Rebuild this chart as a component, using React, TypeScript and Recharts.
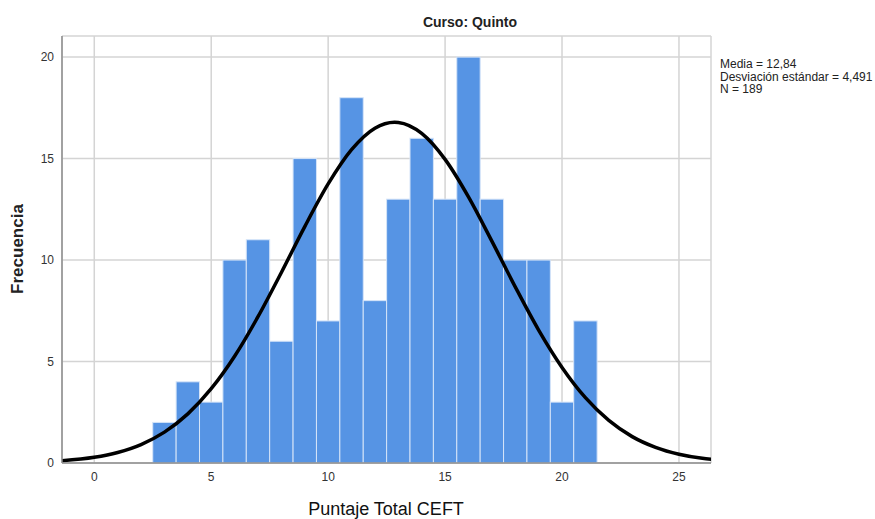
import React from 'react';
import { ComposedChart, Bar, Line, XAxis, YAxis, CartesianGrid } from 'recharts';

const scores = [3, 4, 5, 6, 7, 8, 9, 10, 11, 12, 13, 14, 15, 16, 17, 18, 19, 20, 21];
const counts = [2, 4, 3, 10, 11, 6, 15, 7, 18, 8, 13, 16, 13, 20, 13, 10, 10, 3, 7];

const curveX = [-1.4, 0, 1, 2, 3, 4, 5, 6, 7, 8, 9, 10, 11, 12, 12.84, 13, 14, 15, 16, 17, 18, 19, 20, 21, 22, 23, 24, 25, 26, 26.4];
const curveY = [0.11, 0.28, 0.52, 0.91, 1.52, 2.42, 3.66, 5.26, 7.21, 9.39, 11.65, 13.75, 15.44, 16.5, 16.79, 16.78, 16.24, 14.96, 13.11, 10.93, 8.68, 6.55, 4.71, 3.22, 2.1, 1.3, 0.77, 0.43, 0.23, 0.18];

const xTicks = [0, 5, 10, 15, 20, 25];
const yTicks = [0, 5, 10, 15, 20];

const title = 'Curso: Quinto';
const statsLines = ['Media = 12,84', 'Desviación estándar = 4,491', 'N = 189'];
const xLabel = 'Puntaje Total CEFT';
const yLabel = 'Frecuencia';

const barData = scores.map((s, i) => ({ x: s, count: counts[i] }));
const curveData = curveX.map((x, i) => ({ x, curve: curveY[i] }));

const FONT = '"Liberation Sans", Arial, sans-serif';
const BIN_PX = 23.4;

const HistBar = (props: any) => {
  const { x, y, width, height } = props;
  if (height == null || height <= 0) return null;
  const cx = x + width / 2;
  return (
    <rect
      x={cx - BIN_PX / 2}
      y={y}
      width={BIN_PX}
      height={height}
      fill="#5694e4"
      stroke="#d5e4f8"
      strokeWidth={1}
    />
  );
};

export default function App() {
  return (
    <div style={{ position: 'absolute', left: 0, top: 0, width: 875, height: 519, background: '#fff' }}>
      <ComposedChart
        width={875}
        height={519}
        data={barData}
        margin={{ top: 36, right: 164, left: 0, bottom: 0 }}
      >
        <CartesianGrid stroke="#d4d4d4" strokeWidth={1.5} horizontal vertical />
        <XAxis
          dataKey="x"
          type="number"
          domain={[-1.38, 26.37]}
          allowDataOverflow
          ticks={xTicks}
          height={56}
          tickLine={false}
          axisLine={{ stroke: '#8c8c8c', strokeWidth: 1.5 }}
          tick={{ fill: '#333', fontSize: 12, fontFamily: FONT }}
          tickMargin={3}
        />
        <YAxis
          type="number"
          domain={[0, 21.04]}
          allowDataOverflow
          ticks={yTicks}
          width={62}
          tickLine={false}
          axisLine={{ stroke: '#8c8c8c', strokeWidth: 1.5 }}
          tick={{ fill: '#333', fontSize: 12, fontFamily: FONT }}
          tickMargin={2}
        />
        <Bar dataKey="count" shape={HistBar} isAnimationActive={false} />
        <Line
          data={curveData}
          dataKey="curve"
          type="monotone"
          stroke="#000"
          strokeWidth={3.5}
          dot={false}
          activeDot={false}
          isAnimationActive={false}
        />
        <text x={470} y={27} textAnchor="middle" fontFamily={FONT} fontSize={14} fontWeight="bold" fill="#222">
          {title}
        </text>
        {statsLines.map((t, i) => (
          <text key={t} x={720} y={68 + i * 12.5} fontFamily={FONT} fontSize={12} fill="#222">
            {t}
          </text>
        ))}
        <text x={386} y={515} textAnchor="middle" fontFamily={FONT} fontSize={18} fill="#111">
          {xLabel}
        </text>
        <text
          x={23}
          y={249}
          textAnchor="middle"
          fontFamily={FONT}
          fontSize={17}
          fontWeight="bold"
          fill="#222"
          transform="rotate(-90 23 249)"
        >
          {yLabel}
        </text>
      </ComposedChart>
    </div>
  );
}
